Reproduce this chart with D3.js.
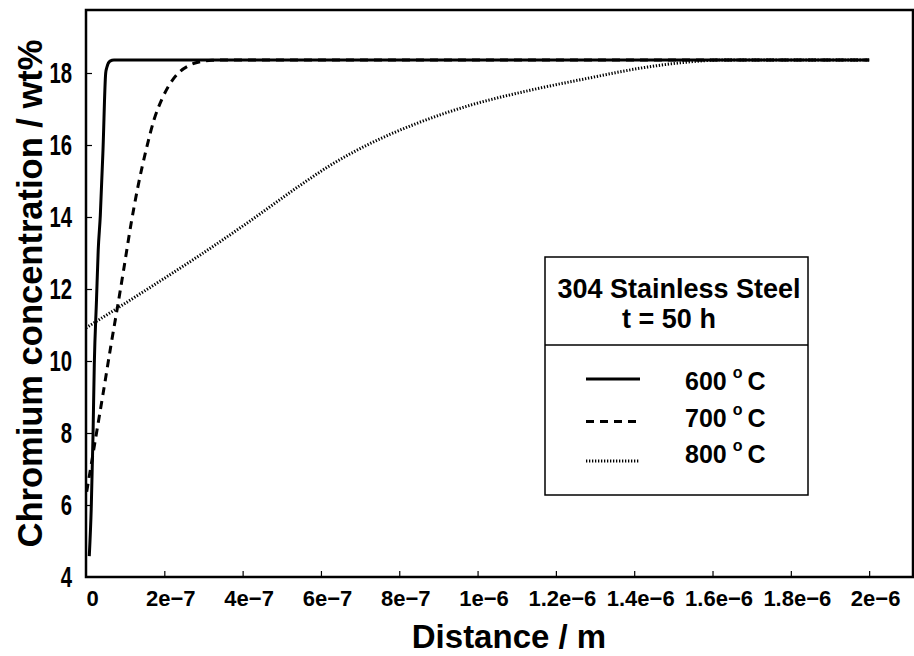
<!DOCTYPE html>
<html>
<head>
<meta charset="utf-8">
<script src="https://cdn.jsdelivr.net/npm/d3@7/dist/d3.min.js"></script>
<style>
  html, body { margin: 0; padding: 0; background: #fff; }
  svg { display: block; }
  text { font-family: "Liberation Sans", Arial, Helvetica, sans-serif; font-weight: bold; fill: #000; }
</style>
</head>
<body>
<svg id="chart" width="914" height="656"></svg>
<script>
// Cr depletion profiles in 304 stainless steel after 50 h
// distance from the grain boundary (m) and Cr content (wt%)
const dist600 = [8.4e-9, 1.35e-8, 1.79e-8, 2.12e-8, 2.68e-8, 3.12e-8, 3.65e-8, 4.34e-8, 5.03e-8, 5.36e-8, 6.13e-8, 7.15e-8, 2.0e-6];
const cr600   = [4.58, 5.95, 7.93, 9.91, 11.69, 13.08, 14.03, 15.86, 18.0, 18.17, 18.33, 18.36, 18.36];

const dist700 = [1.8e-9, 2.3e-8, 4.6e-8, 6.39e-8, 8.17e-8, 9.71e-8, 1.149e-7, 1.328e-7, 1.532e-7, 1.737e-7, 1.941e-7, 2.145e-7, 2.401e-7, 2.656e-7, 2.937e-7, 3.218e-7, 3.55e-7, 2.0e-6];
const cr700   = [6.37, 7.75, 9.25, 10.45, 11.58, 12.6, 13.8, 14.85, 15.85, 16.7, 17.28, 17.7, 18.04, 18.22, 18.32, 18.355, 18.36, 18.36];

const dist800 = [0, 8.94e-8, 1.89e-7, 2.91e-7, 4.19e-7, 5.47e-7, 6.23e-7, 7.18e-7, 8.4e-7, 9.86e-7, 1.134e-6, 1.28e-6, 1.425e-6, 1.543e-6, 1.62e-6, 2.0e-6];
const cr800   = [10.92, 11.53, 12.22, 12.94, 13.89, 14.88, 15.43, 16.0, 16.58, 17.12, 17.52, 17.85, 18.15, 18.31, 18.36, 18.36];

const seriesNames = ["600", "700", "800"];
const xTickValues = [0, 2e-7, 4e-7, 6e-7, 8e-7, 1e-6, 1.2e-6, 1.4e-6, 1.6e-6, 1.8e-6, 2e-6];
const xTickLabels = ["0", "2e\u22127", "4e\u22127", "6e\u22127", "8e\u22127", "1e\u22126", "1.2e\u22126", "1.4e\u22126", "1.6e\u22126", "1.8e\u22126", "2e\u22126"];
const yTickValues = [4, 6, 8, 10, 12, 14, 16, 18];

const svg = d3.select("#chart");
const plot = { left: 86, right: 913, top: 10, bottom: 577 };
const tickFont = "'Liberation Sans', Arial, sans-serif";

const x = d3.scaleLinear().domain([0, 2.112e-6]).range([plot.left, plot.right]);
const y = d3.scaleLinear().domain([4, 19.75]).range([plot.bottom, plot.top]);

const styles = [
  { width: 3, dash: null },
  { width: 3, dash: "8,6" },
  { width: 3, dash: "1.3,1.7" }
];

// axes with inward ticks
const xAxis = d3.axisBottom(x)
  .tickValues(xTickValues)
  .tickSizeInner(-6).tickSizeOuter(0)
  .tickPadding(13)
  .tickFormat((d, i) => xTickLabels[i]);
const gx = svg.append("g").attr("transform", `translate(0,${plot.bottom})`).call(xAxis);
gx.select(".domain").remove();
gx.selectAll(".tick line").attr("stroke", "#000").attr("stroke-width", 1.2);
gx.selectAll(".tick text")
  .attr("font-size", 22).attr("dx", 6)
  .style("font-family", tickFont).style("font-weight", "bold");
gx.selectAll(".tick").filter(d => d === 0).select("line").remove();

// y labels use tall, condensed digits
const yAxis = d3.axisLeft(y)
  .tickValues(yTickValues)
  .tickSizeInner(-6).tickSizeOuter(0)
  .tickPadding(20)
  .tickFormat(d3.format("d"));
const gy = svg.append("g").attr("transform", `translate(${plot.left},0)`).call(yAxis);
gy.select(".domain").remove();
gy.selectAll(".tick line").attr("stroke", "#000").attr("stroke-width", 1.2);
gy.selectAll(".tick text")
  .attr("font-size", 29)
  .attr("transform", "scale(0.7,1)")
  .style("font-family", tickFont).style("font-weight", "bold");
gy.selectAll(".tick").filter(d => d === 4).select("line").remove();

// profile curves
const line = d3.line().x(d => x(d[0])).y(d => y(d[1])).curve(d3.curveMonotoneX);
const profiles = [
  d3.zip(dist800, cr800),
  d3.zip(dist700, cr700),
  d3.zip(dist600, cr600)
];
const profileStyles = [styles[2], styles[1], styles[0]];
svg.append("g").selectAll("path")
  .data(profiles)
  .join("path")
  .attr("d", line)
  .attr("fill", "none")
  .attr("stroke", "#000")
  .attr("stroke-width", (d, i) => profileStyles[i].width)
  .attr("stroke-dasharray", (d, i) => profileStyles[i].dash)
  .attr("stroke-linejoin", "round");

// frame
svg.append("rect")
  .attr("x", plot.left).attr("y", plot.top)
  .attr("width", plot.right - plot.left).attr("height", plot.bottom - plot.top)
  .attr("fill", "none").attr("stroke", "#000").attr("stroke-width", 2.5);

// axis titles
svg.append("text")
  .attr("x", 509).attr("y", 648)
  .attr("text-anchor", "middle").attr("font-size", 33)
  .text("Distance / m");
svg.append("text")
  .attr("transform", `translate(42,${(plot.top + plot.bottom) / 2}) rotate(-90)`)
  .attr("text-anchor", "middle").attr("font-size", 34.5)
  .text("Chromium concentration / wt%");

// legend box
const lg = svg.append("g");
lg.append("rect")
  .attr("x", 545).attr("y", 257).attr("width", 263).attr("height", 238)
  .attr("fill", "#fff").attr("stroke", "#000").attr("stroke-width", 1.5);
lg.append("line")
  .attr("x1", 545).attr("x2", 808).attr("y1", 345).attr("y2", 345)
  .attr("stroke", "#000").attr("stroke-width", 1.5);
lg.append("text").attr("x", 679).attr("y", 298).attr("text-anchor", "middle")
  .attr("font-size", 27).text("304 Stainless Steel");
lg.append("text").attr("x", 669).attr("y", 328).attr("text-anchor", "middle")
  .attr("font-size", 27).text("t = 50 h");

const entries = lg.selectAll("g.entry")
  .data(seriesNames)
  .join("g")
  .attr("class", "entry")
  .attr("transform", (d, i) => `translate(0,${390 + i * 36.5})`);
entries.append("line")
  .attr("x1", 586).attr("x2", 640)
  .attr("y1", (d, i) => [-11, -5, -2][i]).attr("y2", (d, i) => [-11, -5, -2][i])
  .attr("stroke", "#000")
  .attr("stroke-width", (d, i) => styles[i].width)
  .attr("stroke-dasharray", (d, i) => styles[i].dash);
const et = entries.append("text").attr("x", 685).attr("font-size", 25);
et.append("tspan").text(d => d);
et.append("tspan").attr("font-size", 16).attr("dx", 6).attr("dy", -12).text("o");
et.append("tspan").attr("dy", 12).attr("dx", 5).text("C");
</script>
</body>
</html>
